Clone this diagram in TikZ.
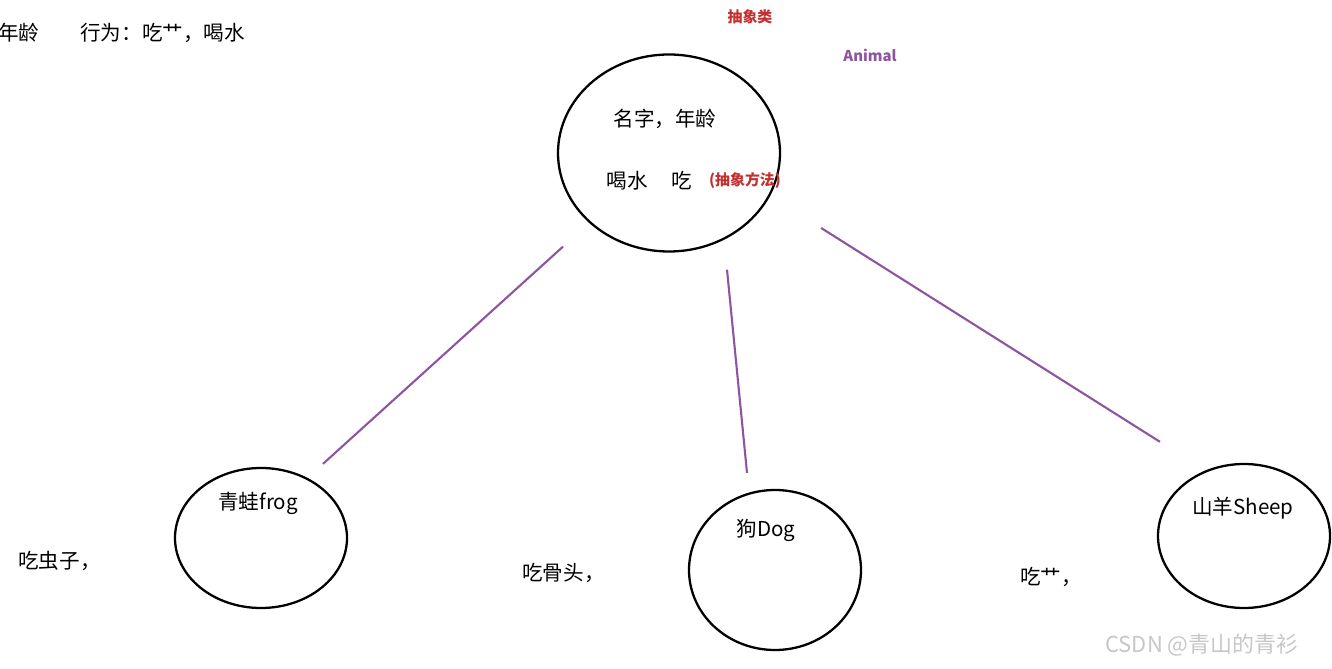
\documentclass[tikz,border=0pt]{standalone}
\usepackage{fontspec}
\setmainfont{Noto Sans CJK SC}
\usetikzlibrary{shapes.geometric}
\definecolor{linkpurple}{RGB}{142,84,160}
\definecolor{notered}{RGB}{196,48,48}
\begin{document}
\begin{tikzpicture}[
    classnode/.style={ellipse, draw, line width=1.3pt, inner sep=0pt},
    link/.style={linkpurple, line width=1.2pt},
    txt/.style={font=\fontsize{11.7}{13}\selectfont, inner sep=0pt},
    small/.style={font=\fontsize{8.5}{10}\selectfont\bfseries, inner sep=0pt}
]
\useasboundingbox (0,0) rectangle (26.64,13.36);

% Header
\node[txt, anchor=west] (age) at (-0.04,12.70) {年龄};
\node[txt, anchor=west] (behaviour) at (1.60,12.70) {行为：吃艹，喝水};
\node[small, notered] (abstract) at (15.00,13.02) {抽象类};
\node[small, linkpurple] (animalname) at (17.40,12.26) {Animal};

% Abstract class
\node[classnode, minimum width=4.44cm, minimum height=3.94cm] (animal) at (13.38,10.30) {};
\node[txt] (fields) at (13.30,10.98) {名字，年龄};
\node[txt] (drink) at (12.54,9.74) {喝水};
\node[txt] (eat) at (13.64,9.74) {吃};
\node[small, notered] (method) at (14.90,9.74) {(抽象方法)};

% Subclasses
\node[classnode, minimum width=3.44cm, minimum height=2.80cm] (frog) at (5.22,2.60) {};
\node[txt] (frogname) at (5.16,3.30) {青蛙frog};
\node[classnode, minimum width=3.44cm, minimum height=3.20cm] (dog) at (15.50,1.96) {};
\node[txt] (dogname) at (15.32,2.76) {狗Dog};
\node[classnode, minimum width=3.44cm, minimum height=2.88cm] (sheep) at (24.88,2.64) {};
\node[txt] (sheepname) at (24.86,3.20) {山羊Sheep};

% What each one eats
\node[txt, anchor=west] (frogfood) at (0.36,2.14) {吃虫子，};
\node[txt, anchor=west] (dogfood) at (10.44,1.90) {吃骨头，};
\node[txt, anchor=west] (sheepfood) at (20.40,1.82) {吃艹，};

% Inheritance lines
\draw[link] ([xshift=-2.12cm, yshift=0.12cm]animal.south) -- ([xshift=1.24cm, yshift=0.06cm]frog.north);
\draw[link] ([xshift=1.16cm, yshift=-0.34cm]animal.south) -- ([xshift=-0.56cm, yshift=0.32cm]dog.north);
\draw[link] ([xshift=0.80cm, yshift=-1.50cm]animal.east) -- ([xshift=-1.68cm, yshift=0.42cm]sheep.north);

% Watermark
\node[txt, anchor=west, black!22, font=\fontsize{12.5}{14}\selectfont] (mark) at (22.10,0.46) {CSDN @青山的青衫};

\end{tikzpicture}
\end{document}
